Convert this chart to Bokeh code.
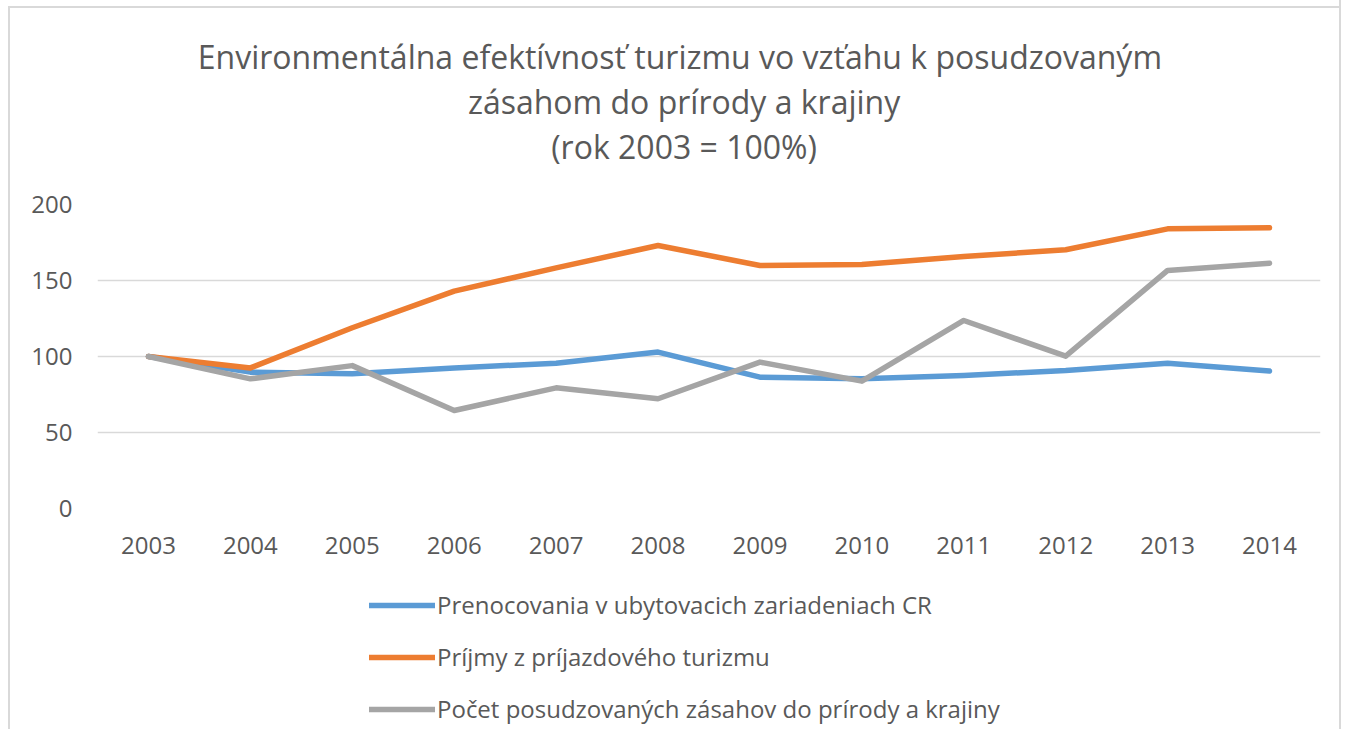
from bokeh.plotting import figure
from bokeh.layouts import column
from bokeh.models import FactorRange, Range1d, Legend, LegendItem, Title
from bokeh.embed import file_html
from bokeh.resources import INLINE

years = ["2003", "2004", "2005", "2006", "2007", "2008", "2009", "2010", "2011", "2012", "2013", "2014"]
prenocovania = [100, 89.7, 88.6, 92.5, 95.6, 102.9, 86.4, 85.3, 87.5, 90.8, 95.6, 90.4]
prijmy = [100, 92.5, 118.9, 143.0, 158.3, 173.0, 159.9, 160.5, 165.8, 170.2, 184.0, 184.7]
pocet = [100, 85.3, 94.0, 64.5, 79.4, 72.2, 96.3, 83.8, 123.7, 100.2, 156.6, 161.4]
series_names = [
    "Prenocovania v ubytovacich zariadeniach CR",
    "Príjmy z príjazdového turizmu",
    "Počet posudzovaných zásahov do prírody a krajiny",
]
y_ticks = [0, 50, 100, 150, 200]
title_lines = [
    "Environmentálna efektívnosť turizmu vo vzťahu k  posudzovaným",
    "zásahom do prírody a krajiny",
    "(rok 2003 = 100%)",
]

FONT = "Open Sans"
TXT = "#595959"
colors = ["#5B9BD5", "#ED7D31", "#A5A5A5"]
SHADOW = {"box-shadow": "2px 0 0 0 #d9d9d9"}
FRAME_BG = {
    "background": "linear-gradient(#d9d9d9,#d9d9d9) 8px 6px / 2px 100% no-repeat, "
                  "linear-gradient(#d9d9d9,#d9d9d9) 8px 6px / 100% 2px no-repeat, #ffffff",
}
NBSP_PAD = "\u00a0" * 6  # shifts centred title lines a little to the left

p = figure(
    x_range=FactorRange(factors=years),
    y_range=Range1d(0, 200),
    width=1339, height=578,
    output_backend="svg", toolbar_location=None,
    min_border_left=97, min_border_right=19,
    min_border_top=204, min_border_bottom=70,
)
p.styles = SHADOW
p.outline_line_color = None
p.border_fill_color = None
p.background_fill_color = "white"
p.title = None

# spacer closest to the frame, then title lines from the last to the first
p.add_layout(Title(text=" ", text_font=FONT, text_font_size="10px", text_color="white", standoff=21), "above")
for line in reversed(title_lines):
    p.add_layout(Title(text=line + NBSP_PAD, align="center", text_font=FONT,
                       text_font_size="32px", text_font_style="normal",
                       text_color=TXT, standoff=0), "above")

p.xgrid.grid_line_color = None
p.ygrid.grid_line_color = "#d9d9d9"
p.ygrid.grid_line_width = 1.5
p.yaxis.ticker = y_ticks

for ax in (p.xaxis, p.yaxis):
    ax.axis_line_color = None
    ax.major_tick_line_color = None
    ax.minor_tick_line_color = None
    ax.major_label_text_font = FONT
    ax.major_label_text_font_size = "24px"
    ax.major_label_text_color = TXT
p.yaxis.major_label_standoff = 19
p.xaxis.major_label_standoff = 22

all_series = [prenocovania, prijmy, pocet]
for vals, col in zip(all_series, colors):
    p.line(years, vals, line_color=col, line_width=5.5, line_cap="round", line_join="round")

# legend panel below the chart
p2 = figure(
    x_range=FactorRange(factors=years), y_range=Range1d(0, 200),
    width=1339, height=151, output_backend="svg", toolbar_location=None,
    x_axis_location=None, y_axis_location=None, min_border=0,
)
p2.styles = SHADOW
p2.outline_line_color = None
p2.border_fill_color = None
p2.background_fill_color = None
p2.grid.grid_line_color = None
leg_renderers = []
for vals, col in zip(all_series, colors):
    r = p2.line(years, vals, line_color=col, line_width=5.5, line_cap="round", visible=False)
    leg_renderers.append(r)

legend = Legend(
    items=[LegendItem(label=n, renderers=[r]) for n, r in zip(series_names, leg_renderers)],
    location=(272, 4), orientation="vertical",
    glyph_width=66, glyph_height=30, label_height=30, spacing=19,
    padding=0, margin=0, label_standoff=2,
    border_line_color=None, background_fill_alpha=0, inactive_fill_alpha=0,
    label_text_font=FONT, label_text_font_size="24px", label_text_color=TXT,
)
p2.add_layout(legend)

layout = column(p, p2, spacing=0)
layout.styles = FRAME_BG
open("out.html", "w").write(file_html(layout, INLINE))
